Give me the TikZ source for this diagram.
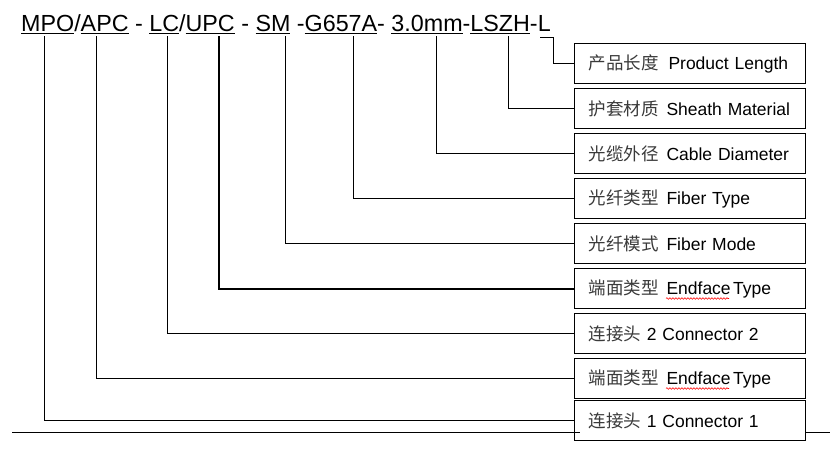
\documentclass[tikz,border=0pt]{standalone}
\usepackage{fontspec}
\setmainfont{Liberation Sans}
\newfontfamily\cjk{Noto Sans CJK SC}
\usepackage{xcolor}
\usetikzlibrary{positioning}
\usetikzlibrary{calc}
\usetikzlibrary{decorations.pathmorphing}

\definecolor{zhgray}{HTML}{3A3A3A}
% underlined part of the product code
\newcommand{\codeseg}[1]{\setbox0=\hbox{#1}\rlap{\rule[-3pt]{\wd0}{1pt}}\box0\relax}
\newcommand{\zh}[1]{{\cjk\color{zhgray}#1}}

\begin{document}
\begin{tikzpicture}[
		x=1pt, y=-1pt,
		% Style definitions
		infobox/.style={draw, line width=1pt, fill=white, minimum width=231pt, minimum height=40pt, text width=203pt, inner xsep=14pt, align=left, font=\fontsize{17.5}{20}\selectfont},
		codeline/.style={inner sep=0pt, font=\fontsize{23.3}{28}\selectfont},
		leader/.style={line width=1pt},
		boldleader/.style={line width=2pt},
		spell/.style={red, line width=0.6pt, decorate, decoration={snake, amplitude=0.8pt, segment length=3pt}},
		node distance=4pt,
		]
		\useasboundingbox (0,0) rectangle (835,451);

		% Product code (top row)
		\node[codeline, anchor=base west] (code) at (21,31) {\codeseg{MPO}/\codeseg{APC} - \codeseg{LC}/\codeseg{UPC} - \codeseg{SM} -\codeseg{G657A}- \codeseg{3.0mm}-\codeseg{LSZH}-L};

		% Drop points below the code parts
		\coordinate (hookL) at (540,37);
		\coordinate (dropL) at (553,37);
		\coordinate (dropLSZH) at (508,36);
		\coordinate (dropMM) at (436,36);
		\coordinate (dropG) at (353,36);
		\coordinate (dropSM) at (285,36);
		\coordinate (dropUPC) at (219,36);
		\coordinate (dropLC) at (167,36);
		\coordinate (dropAPC) at (96,36);
		\coordinate (dropMPO) at (44,36);

		% Bottom rail
		\coordinate (railW) at (12,432.5);
		\coordinate (railE) at (830,432.5);

		% Column of explanation boxes
		\node[infobox, anchor=north west] (length) at (574,43) {\zh{产品长度}\hspace{10pt}Product Length};
		\node[infobox, below=of length] (sheath) {\zh{护套材质}\hspace{8pt}Sheath Material};
		\node[infobox, below=of sheath] (diam) {\zh{光缆外径}\hspace{8pt}Cable Diameter};
		\node[infobox, below=of diam] (fiber) {\zh{光纤类型}\hspace{8pt}Fiber Type};
		\node[infobox, below=of fiber] (mode) {\zh{光纤模式}\hspace{8pt}Fiber Mode};
		\node[infobox, below=of mode] (face2) {\zh{端面类型}\hspace{8pt}Endface\hspace{2.5pt}Type};
		\node[infobox, below=of face2] (conn2) {\zh{连接头} 2 Connector 2};
		\node[infobox, below=of conn2] (face1) {\zh{端面类型}\hspace{8pt}Endface\hspace{2.5pt}Type};
		\node[infobox, below=1pt of face1] (conn1) {\zh{连接头} 1 Connector 1};

		% Leaders from code parts to boxes
		\draw[leader] (hookL) -- (dropL) |- (length.west);
		\draw[leader] (dropLSZH) |- (sheath.west);
		\draw[leader] (dropMM) |- (diam.west);
		\draw[leader] (dropG) |- (fiber.west);
		\draw[leader] (dropSM) |- (mode.west);
		\draw[boldleader] (dropUPC) |- (face2.west);
		\draw[leader] (dropLC) |- (conn2.west);
		\draw[leader] (dropAPC) |- (face1.west);
		\draw[leader] (dropMPO) |- (conn1.west);

		% Rail under the picture
		\draw[leader] (railW) -- ($(railW -| conn1.west)+(6,0)$);
		\draw[leader] (railW -| conn1.east) -- (railE);

		% Spell-check marks
		\draw[spell] ($(face2.west)+(92,10)$) -- ++(63,0);
		\draw[spell] ($(face1.west)+(92,10)$) -- ++(63,0);

	\end{tikzpicture}
\end{document}
